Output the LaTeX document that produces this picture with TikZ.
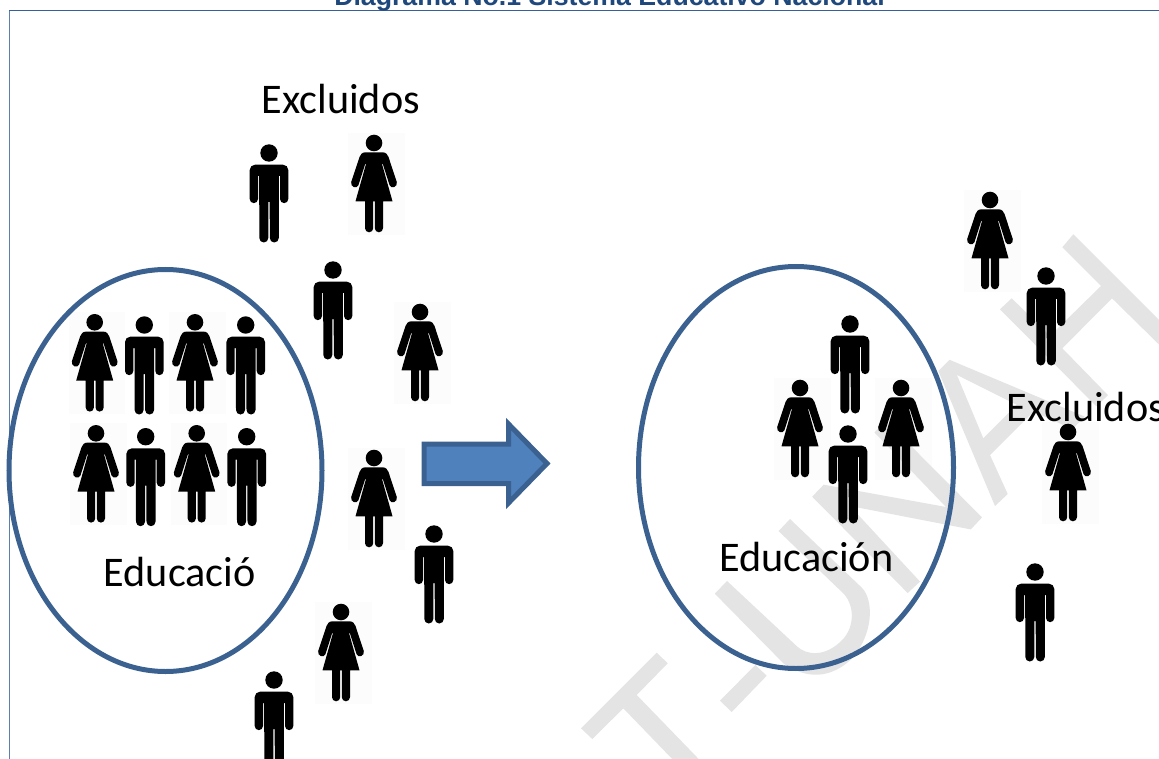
\documentclass[tikz,border=0pt]{standalone}
\usepackage{fontspec}
\usetikzlibrary{shapes.geometric}
\setmainfont{Carlito}
\newfontfamily\titlefont[Scale=1.0]{Liberation Sans}
\definecolor{wm}{HTML}{E4E4E4}
\definecolor{ringblue}{HTML}{3A6190}
\definecolor{arrowfill}{HTML}{4F81BD}
\definecolor{framecol}{HTML}{36609A}
\definecolor{frameside}{HTML}{5C7FB0}
\definecolor{titlecol}{HTML}{1F497D}
\definecolor{photo}{HTML}{FCFCFC}
\tikzset{
  man/.pic={
    \fill[black] (0,0) circle (8.7);
    \fill[black] (-14,-11.7) -- (14,-11.7) arc (90:0:5.3) -- (19.3,-46) arc (0:-180:4.15) -- (11,-23) -- (9.8,-23) -- (9.8,-85) arc (0:-180:4.5) -- (0.7,-49) -- (-0.7,-49) -- (-0.7,-85) arc (0:-180:4.5) -- (-9.8,-23) -- (-11,-23) -- (-11,-46) arc (0:-180:4.15) -- (-19.3,-17) arc (180:90:5.3) -- cycle;
  },
  woman/.pic={
    \fill[black] (0,0) circle (8.3);
    \fill[black] (-8.5,-9.3) -- (8.5,-9.3) .. controls (12,-9.3) and (13.5,-11.5) .. (14.5,-14) -- (22.8,-39) .. controls (24,-44) and (17,-46.5) .. (15.5,-42) -- (8.8,-21) -- (8,-21) -- (18.5,-58.3) -- (9,-58.3) -- (9,-85.2) arc (0:-180:4.1) -- (0.8,-58.3) -- (-0.8,-58.3) -- (-0.8,-85.2) arc (0:-180:4.1) -- (-9,-58.3) -- (-18.5,-58.3) -- (-8,-21) -- (-8.8,-21) -- (-15.5,-42) .. controls (-17,-46.5) and (-24,-44) .. (-22.8,-39) -- (-14.5,-14) .. controls (-13.5,-11.5) and (-12,-9.3) .. (-8.5,-9.3) -- cycle;
  },
  photobg/.pic={
    \fill[photo] (-26,10) rectangle (30.5,-92);
  },
  ring/.style={draw=ringblue,line width=5pt,fill=none},
  bigarrow/.style={draw=ringblue,line width=5pt,fill=arrowfill,miter limit=10},
  textlabel/.style={font=\fontsize{42.2}{46}\selectfont,text=black,inner sep=0pt,anchor=base west},
  doctitle/.style={font=\titlefont\bfseries\fontsize{26.7}{30}\selectfont,text=titlecol,inner sep=0pt,anchor=base}
}
\begin{document}
\begin{tikzpicture}[x=1pt,y=1pt]
\useasboundingbox (0,0) rectangle (1159,-759);
\clip (0,0) rectangle (1159,-759);
\fill[white] (0,0) rectangle (1159,-759);
% very light backing of the woman pictures
\foreach \px/\py in {374/143,420/312,374/458,341/612,990/200,1068/432,800/388,901/388,94.7/322.3,195/322.3,96/433.3,196.7/433.3}
  \pic at (\px,-\py) {photobg};
% watermark T-UNAH
\begin{scope}[wm]
\fill (656.7,-652.7) -- (667.7,-663.3) -- (636.7,-695) -- (720,-781) -- (707,-795) -- (623.3,-708.3) -- (592.3,-739) -- (581,-728.3) -- cycle;
\fill (755.3,-665) -- (766.7,-675.7) -- (731.7,-712) -- (720,-700.7) -- cycle;
\fill (727,-581) -- (796.9,-646.3) .. controls (806,-655) and (825,-658) .. (842.8,-639.4) .. controls (855,-626) and (854,-606) .. (844.7,-594.7) -- (778.6,-531.1) -- (790,-519) -- (861.9,-587.8) .. controls (874,-600) and (874,-635) .. (850.4,-660) .. controls (825,-683) and (800,-675) .. (783.5,-663.4) -- (714.8,-593.7) -- cycle;
\fill (812.2,-496.7) -- (823.7,-484.7) -- (946,-507) -- (874.5,-432.5) -- (885.7,-420.5) -- (982,-517.4) -- (970.8,-529.4) -- (850,-506) -- (920,-581.6) -- (907.7,-593) -- cycle;
\fill (938.3,-371) -- (949.5,-359.8) -- (1084.5,-416.5) -- (1072.5,-429.2) -- (1033.5,-411.5) -- (1016.8,-404.8) -- (956.8,-374.8) -- (983.3,-438.3) -- (1016.8,-404.8) -- (1033.5,-411.5) -- (990,-455) -- (1007.7,-494) -- (995,-506) -- cycle;
\fill (1073.3,-234.3) -- (1200,-361) -- (1188,-373) -- (1112,-298.3) -- (1062.3,-348.3) -- (1108,-395.2) -- (1096.3,-406.2) -- (1000,-309.3) -- (1011.7,-298.3) -- (1050,-336) -- (1101,-286) -- (1062.3,-247.3) -- cycle;
\end{scope}
% frame and title
\draw[frameside,line width=1.2pt] (9.5,-760) -- (9.5,-10.5);
\draw[framecol,line width=1.5pt] (9,-10.5) -- (1160,-10.5);
\node[doctitle] (title) at (609.5,-6) {Diagrama No.1 Sistema Educativo Nacional};
% circles
\node[ring,ellipse,minimum width=313pt,minimum height=402pt,inner sep=0pt] (left) at (165.5,-470.5) {};
\node[ring,ellipse,minimum width=315pt,minimum height=402pt,inner sep=0pt] (right) at (796,-467.5) {};
% arrow
\draw[bigarrow] (424,-444) -- (508.5,-444) -- (508.5,-424) -- (547,-463.5) -- (508.5,-503) -- (508.5,-483.5) -- (424,-483.5) -- cycle;
% people
\foreach \px/\py in {269/153,333/270,434/534,274/680,850/324,848/434,1046/276,1035/572,144.3/325,245.7/325,145.7/436.7,246.7/436.7}
  \pic at (\px,-\py) {man};
\foreach \px/\py in {374/143,420/312,374/458,341/612,990/200,1068/432,800/388,901/388,94.7/322.3,195/322.3,96/433.3,196.7/433.3}
  \pic at (\px,-\py) {woman};
% labels
\node[textlabel] (excl1) at (261.5,-114) {Excluidos};
\node[textlabel] (excl2) at (1006.5,-421.7) {Excluidos};
\node[textlabel] (edu1) at (103.5,-586) {Educació};
\node[textlabel] (edu2) at (719,-571.5) {Educación};
\end{tikzpicture}
\end{document}
